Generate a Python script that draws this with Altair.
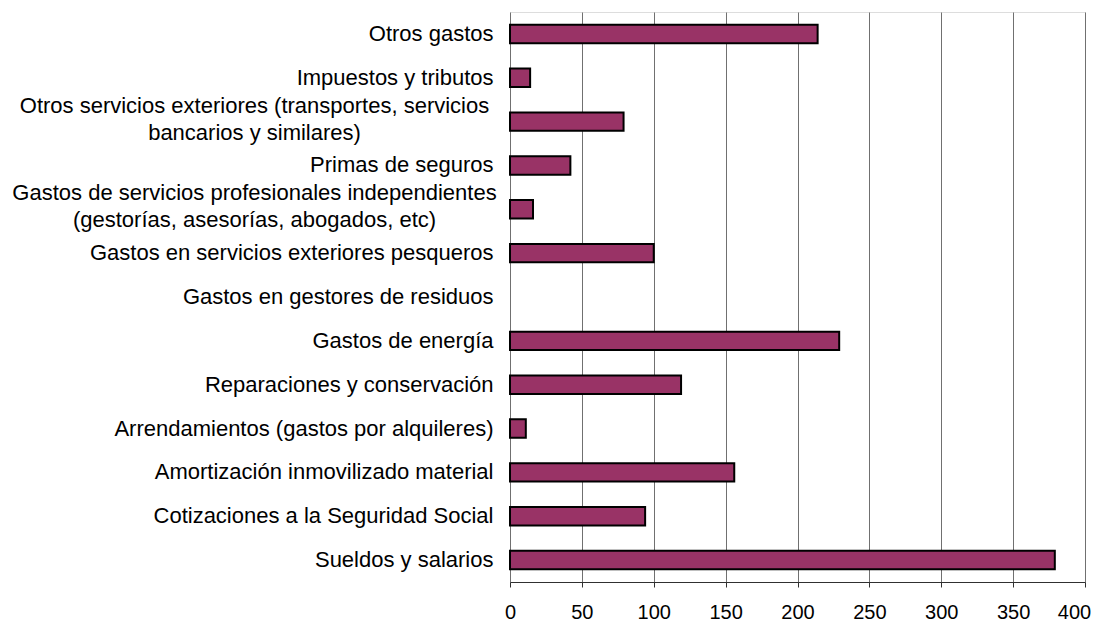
import altair as alt
import pandas as pd

categorias = [
    "Otros gastos",
    "Impuestos y tributos",
    "Otros servicios exteriores (transportes, servicios|bancarios y similares)",
    "Primas de seguros",
    "Gastos de servicios profesionales independientes|(gestorías, asesorías, abogados, etc)",
    "Gastos en servicios exteriores pesqueros",
    "Gastos en gestores de residuos",
    "Gastos de energía",
    "Reparaciones y conservación",
    "Arrendamientos (gastos por alquileres)",
    "Amortización inmovilizado material",
    "Cotizaciones a la Seguridad Social",
    "Sueldos y salarios",
]
valores = [214, 14, 79, 42, 16, 100, 0, 229, 119, 11, 156, 94, 379]
ticks_x = [0, 50, 100, 150, 200, 250, 300, 350, 400]

df = pd.DataFrame({"categoria": categorias, "valor": valores})

font = "Liberation Sans"
wrapped = "indexof(datum.value, '|') >= 0"

chart = (
    alt.Chart(df)
    .mark_bar(color="#993366", stroke="#000000")
    .encode(
        x=alt.X(
            "valor:Q",
            scale=alt.Scale(domain=[0, 400], nice=False),
            axis=alt.Axis(
                values=ticks_x,
                title=None,
                grid=True,
                gridColor="#707070",
                gridWidth=1,
                domainColor="#303030",
                tickColor="#303030",
                tickSize=5,
                labelFontSize=20,
                labelFont=font,
                labelColor="#000000",
                labelPadding=15,
                labelFlush=False,
                labelOffset=alt.condition("datum.value >= 400", alt.value(-11), alt.value(0)),
            ),
        ),
        y=alt.Y(
            "categoria:N",
            sort=categorias,
            scale=alt.Scale(domain=categorias, paddingInner=0.58, paddingOuter=0.29),
            axis=alt.Axis(
                title=None,
                domain=False,
                ticks=False,
                labelFontSize=22,
                labelFont=font,
                labelColor="#000000",
                labelLimit=600,
                labelLineHeight=27,
                labelExpr="split(datum.value, '|')",
                labelAlign=alt.condition(wrapped, alt.value("center"), alt.value("right")),
                labelPadding=alt.condition(wrapped, alt.value(256), alt.value(17)),
                labelOffset=alt.condition(wrapped, alt.value(-16), alt.value(0)),
            ),
        ),
        strokeWidth=alt.condition("datum.valor > 0", alt.value(2), alt.value(0)),
    )
    .properties(
        width=575,
        height=570,
        autosize=alt.AutoSizeParams(type="none"),
        padding={"left": 502, "top": 4, "right": 10, "bottom": 40},
    )
    .configure_view(stroke=None)
    .configure(background="#ffffff")
)

chart.save("out.html", embed_options={"renderer": "svg", "actions": False})
